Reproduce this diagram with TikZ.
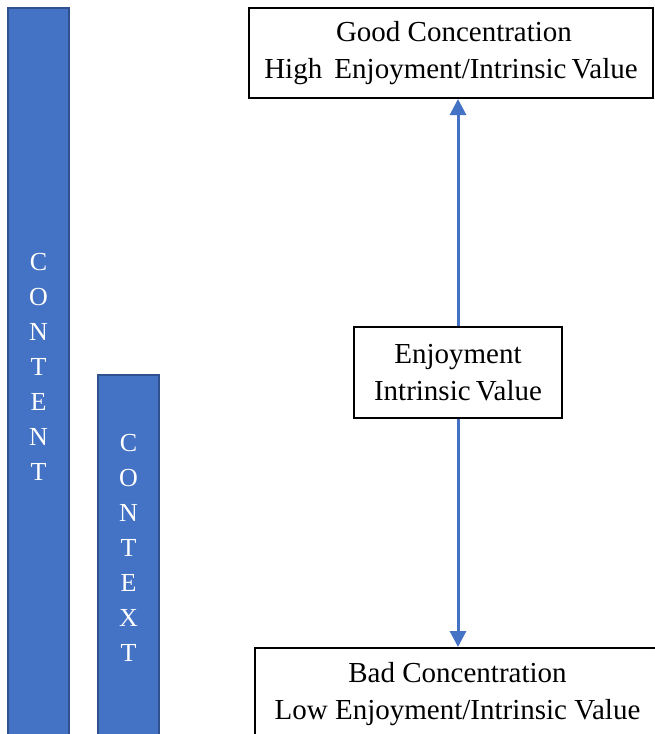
\documentclass[tikz,border=0pt]{standalone}
\usepackage{fontspec}
\setmainfont{Liberation Serif}
\usepackage{tikz}
\usetikzlibrary{arrows.meta}

\definecolor{barblue}{HTML}{4472C4}
\definecolor{bardark}{HTML}{2F528F}

\begin{document}
\begin{tikzpicture}[x=1pt,y=-1pt,>={Triangle[length=16pt,width=16pt]},
  bar/.style={rectangle,fill=barblue,draw=bardark,line width=1.5pt,minimum width=61pt,anchor=north},
  bar text/.style={text=white,align=center,font=\fontsize{26}{35}\selectfont},
  level box/.style={rectangle,draw,line width=2pt,fill=white,align=center,inner sep=0pt,
    font=\fontsize{29}{37}\selectfont}]

  \useasboundingbox (0,0) rectangle (654,734);

  \node[bar,minimum height=740pt] (content) at (38.5,7) {};
  \node[bar,minimum height=370pt] (context) at (128.5,374) {};
  \node[bar text] (content text) at (38.5,367) {C\\O\\N\\T\\E\\N\\T};
  \node[bar text] (context text) at (128.5,548) {C\\O\\N\\T\\E\\X\\T};

  \node[level box,minimum width=404pt,minimum height=90pt] (good) at (451,53)
    {\hspace{6pt}Good Concentration\\High\hspace{5pt} Enjoyment/Intrinsic\hspace{-2pt} Value};
  \node[level box,minimum width=208pt,minimum height=91pt] (enjoy) at (458,372.5)
    {Enjoyment\\Intrinsic\hspace{-2pt} Value};
  \node[level box,minimum width=405pt,minimum height=92pt] (bad) at (457.5,694)
    {Bad Concentration\\Low Enjoyment/Intrinsic Value};

  \path[every edge/.style={draw=barblue,line width=3pt,->}]
    (enjoy.north) edge (enjoy.north |- good.south)
    (enjoy.south) edge (enjoy.south |- bad.north);
\end{tikzpicture}
\end{document}
